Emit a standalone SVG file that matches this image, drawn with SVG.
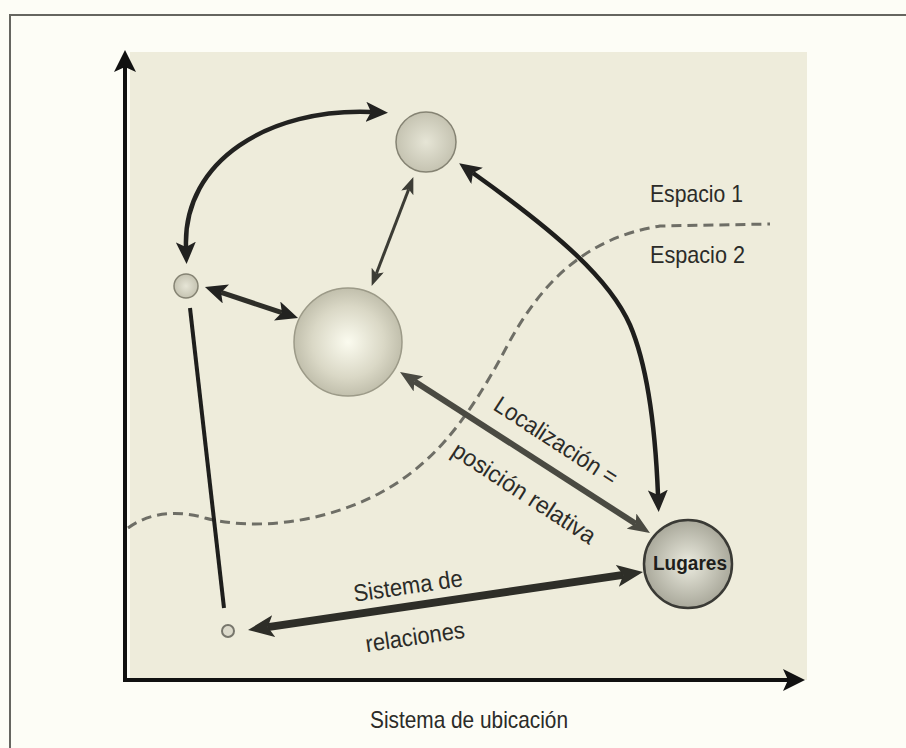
<svg xmlns="http://www.w3.org/2000/svg" width="906" height="748" viewBox="0 0 906 748">
<defs>
<style>
.lbl{font-family:"Liberation Sans",Arial,sans-serif;font-size:24px;fill:#2b2b28}
.conn{fill:none;stroke-linecap:butt}
</style>
<radialGradient id="gSmall" cx="0.5" cy="0.5" r="0.55">
<stop offset="0" stop-color="#e6e5d6"/><stop offset="1" stop-color="#c2c0ae"/>
</radialGradient>
<radialGradient id="gBig" cx="0.5" cy="0.5" r="0.55">
<stop offset="0" stop-color="#fbfbef"/><stop offset="0.6" stop-color="#dad8c6"/><stop offset="1" stop-color="#bab8a5"/>
</radialGradient>
<radialGradient id="gLug" cx="0.5" cy="0.5" r="0.55">
<stop offset="0" stop-color="#ebebdf"/><stop offset="1" stop-color="#a3a294"/>
</radialGradient>
<marker id="ahXL" markerUnits="userSpaceOnUse" markerWidth="26" markerHeight="22" viewBox="0 0 26 22" refX="6" refY="11" orient="auto-start-reverse">
<path d="M0,0 L26,11 L0,22 L6,11 z" fill="#2e2e28"/>
</marker>
<marker id="ahL" markerUnits="userSpaceOnUse" markerWidth="22" markerHeight="20" viewBox="0 0 22 20" refX="5" refY="10" orient="auto-start-reverse">
<path d="M0,0 L22,10 L0,20 L5,10 z" fill="#222220"/>
</marker>
<marker id="ahM" markerUnits="userSpaceOnUse" markerWidth="22" markerHeight="18" viewBox="0 0 22 18" refX="5" refY="9" orient="auto-start-reverse">
<path d="M0,0 L22,9 L0,18 L5,9 z" fill="#4a4a42"/>
</marker>
<marker id="ahS" markerUnits="userSpaceOnUse" markerWidth="17" markerHeight="13" viewBox="0 0 17 13" refX="4" refY="6.5" orient="auto-start-reverse">
<path d="M0,0 L17,6.5 L0,13 L4,6.5 z" fill="#3c3c35"/>
</marker>
<marker id="ahAx" markerUnits="userSpaceOnUse" markerWidth="22" markerHeight="22" viewBox="0 0 22 22" refX="5" refY="11" orient="auto-start-reverse">
<path d="M0,0 L22,11 L0,22 L5,11 z" fill="#111"/>
</marker>
</defs>

<rect x="0" y="0" width="906" height="748" fill="#fdfdf6"/>
<rect x="10" y="15" width="920" height="760" fill="none" stroke="#666660" stroke-width="2"/>
<rect x="130" y="52" width="677" height="628" fill="#eeecdb"/>

<g id="background-curve">
<path d="M128,528 C150,512 178,510 205,518 C250,530 320,525 380,493 C430,466 465,425 505,350 C540,283 585,238 660,226 L770,224" fill="none" stroke="#6e6e66" stroke-width="3" stroke-dasharray="10 6"/>
</g>

<g id="axes">
<path d="M125,67 L125,680 L788,680" fill="none" stroke="#111" stroke-width="4" marker-start="url(#ahAx)" marker-end="url(#ahAx)"/>
</g>

<g id="connectors" class="conn">
<path d="M186,247 C183,160 270,108 371,112" stroke="#222220" stroke-width="4.5" fill="none" marker-start="url(#ahL)" marker-end="url(#ahL)"/>
<path d="M408.7,189.2 L376.3,273.8" stroke="#3c3c35" stroke-width="3" fill="none" marker-start="url(#ahS)" marker-end="url(#ahS)"/>
<path d="M221.1,292.4 L281.9,312.6" stroke="#2e2e28" stroke-width="5" fill="none" marker-start="url(#ahL)" marker-end="url(#ahL)"/>
<path d="M473,173 C560,235 610,280 630,325 C645,360 655,420 658,495" stroke="#1e1e1c" stroke-width="4.5" fill="none" marker-start="url(#ahL)" marker-end="url(#ahL)"/>
<path d="M414.3,381.2 L635.7,523.8" stroke="#4a4a42" stroke-width="6" fill="none" marker-start="url(#ahM)" marker-end="url(#ahM)"/>
<path d="M623.2,574.9 L267.8,627.1" stroke="#2e2e28" stroke-width="8" fill="none" marker-start="url(#ahXL)" marker-end="url(#ahXL)"/>
<path d="M190,308 L224,608" stroke="#1e1e1c" stroke-width="4" fill="none"/>
</g>

<g id="node-top"><circle cx="426" cy="142" r="30" fill="url(#gSmall)" stroke="#858373" stroke-width="1.5"/></g>
<g id="node-left"><circle cx="186" cy="286" r="12" fill="url(#gSmall)" stroke="#858373" stroke-width="1.5"/></g>
<g id="node-big"><circle cx="348" cy="342" r="54" fill="url(#gBig)" stroke="#9c9a88" stroke-width="1.5"/></g>
<g id="node-lugares">
<circle cx="688" cy="564" r="44" fill="url(#gLug)" stroke="#3a3a35" stroke-width="2.5"/>
<text x="690" y="570" text-anchor="middle" font-family="Liberation Sans, Arial, sans-serif" font-size="20" font-weight="bold" fill="#1e1e1c" textLength="74" lengthAdjust="spacingAndGlyphs">Lugares</text>
</g>
<g id="node-tiny"><circle cx="228" cy="631" r="6" fill="#dcdacb" stroke="#77766c" stroke-width="2"/></g>

<g id="labels">
<text class="lbl" x="650" y="202" textLength="93" lengthAdjust="spacingAndGlyphs">Espacio 1</text>
<text class="lbl" x="650" y="263" textLength="95" lengthAdjust="spacingAndGlyphs">Espacio 2</text>
<text class="lbl" transform="translate(556,441) rotate(33)" x="0" y="8" text-anchor="middle" textLength="142" lengthAdjust="spacingAndGlyphs">Localización =</text>
<text class="lbl" transform="translate(524,493) rotate(33)" x="0" y="8" text-anchor="middle" textLength="166" lengthAdjust="spacingAndGlyphs">posición relativa</text>
<text class="lbl" transform="translate(408,586) rotate(-8.3)" x="0" y="8" text-anchor="middle" textLength="110" lengthAdjust="spacingAndGlyphs">Sistema de</text>
<text class="lbl" transform="translate(415,637) rotate(-8.3)" x="0" y="8" text-anchor="middle" textLength="100" lengthAdjust="spacingAndGlyphs">relaciones</text>
<text class="lbl" x="469" y="728" text-anchor="middle" textLength="198" lengthAdjust="spacingAndGlyphs">Sistema de ubicación</text>
</g>
</svg>
